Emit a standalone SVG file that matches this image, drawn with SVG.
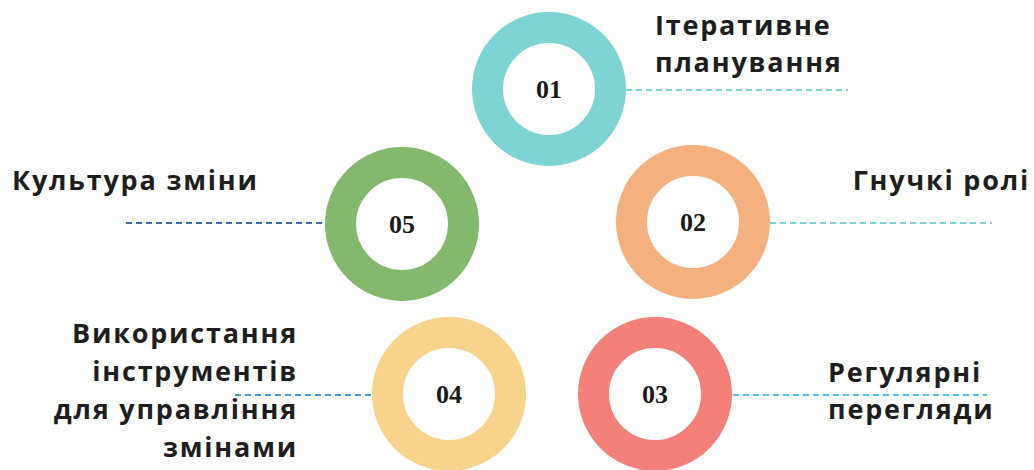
<svg xmlns="http://www.w3.org/2000/svg" width="1034" height="470" viewBox="0 0 1034 470">
  <style>
    .ring { stroke-width: 31; fill: #ffffff; }
    .num { font-family: "Liberation Serif", "Times New Roman", serif; font-weight: bold; font-size: 26px; fill: #1a1a1a; text-anchor: middle; }
    .label { font-family: "Open Sans", "Noto Sans", sans-serif; font-weight: bold; font-size: 27px; letter-spacing: 1.8px; fill: #1e1e1e; }
    .dash { fill: none; stroke-width: 2; stroke-dasharray: 6 4; }
  </style>
  <rect width="1034" height="470" fill="#ffffff"/>

  <!-- connectors -->
  <g id="connectors">
    <line class="dash" x1="626" y1="90" x2="848" y2="90" stroke="#7fd2d6"/>
    <line class="dash" x1="770" y1="223" x2="992" y2="223" stroke="#7fd2d6"/>
    <line class="dash" x1="733" y1="395" x2="987" y2="395" stroke="#4cc4ee"/>
    <line class="dash" x1="235" y1="395" x2="372" y2="395" stroke="#3c9fe0"/>
    <line class="dash" x1="126" y1="223" x2="325" y2="223" stroke="#3a6ea8"/>
  </g>

  <g id="node-01">
    <circle class="ring" cx="549" cy="89" r="61.5" stroke="#7dd4d3"/>
    <text class="num" x="549" y="98">01</text>
    <text class="label" x="655" y="35">Ітеративне</text>
    <text class="label" x="655" y="72">планування</text>
  </g>

  <g id="node-02">
    <circle class="ring" cx="693" cy="222" r="61.5" stroke="#f4b07e"/>
    <text class="num" x="693" y="231">02</text>
    <text class="label" x="1030" y="190" text-anchor="end">Гнучкі ролі</text>
  </g>

  <g id="node-03">
    <circle class="ring" cx="655" cy="394" r="61.5" stroke="#f4807a"/>
    <text class="num" x="655" y="403">03</text>
    <text class="label" x="828" y="382">Регулярні</text>
    <text class="label" x="828" y="419">перегляди</text>
  </g>

  <g id="node-04">
    <circle class="ring" cx="449" cy="394" r="61.5" stroke="#f8d38b"/>
    <text class="num" x="449" y="403">04</text>
    <g text-anchor="end">
      <text class="label" x="298" y="343">Використання</text>
      <text class="label" x="298" y="381">інструментів</text>
      <text class="label" x="298" y="419">для управління</text>
      <text class="label" x="298" y="457">змінами</text>
    </g>
  </g>

  <g id="node-05">
    <circle class="ring" cx="402" cy="224" r="61.5" stroke="#84b86c"/>
    <text class="num" x="402" y="233">05</text>
    <text class="label" x="12" y="190">Культура зміни</text>
  </g>
</svg>
